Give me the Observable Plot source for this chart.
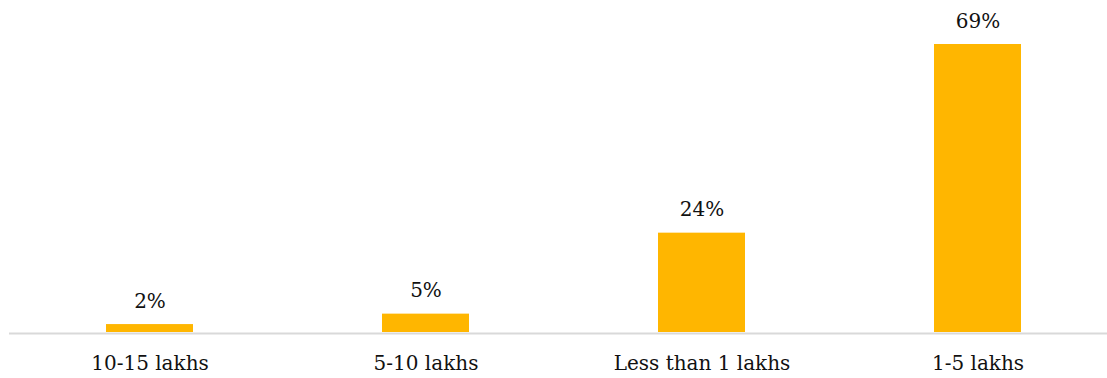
<!DOCTYPE html>
<html>
<head>
<meta charset="utf-8">
<script src="https://cdn.jsdelivr.net/npm/d3@7"></script>
<script src="https://cdn.jsdelivr.net/npm/@observablehq/plot@0.6"></script>
<style>
  html, body { margin: 0; padding: 0; background: #fff; }
  #chart svg { display: block; }
</style>
</head>
<body>
<div id="chart"></div>
<script>
const categories = ["10-15 lakhs", "5-10 lakhs", "Less than 1 lakhs", "1-5 lakhs"];
const values = [1.9, 4.4, 23.8, 69];
const valueLabels = ["2%", "5%", "24%", "69%"];

const data = categories.map((c, i) => ({cat: c, value: values[i], label: valueLabels[i]}));
const font = "'DejaVu Serif', Georgia, serif";

const chart = Plot.plot({
  width: 1107,
  height: 378,
  marginTop: 44,
  marginBottom: 46,
  marginLeft: 9,
  marginRight: 0,
  style: {fontFamily: font, fontSize: "20px", color: "#111", background: "#fff"},
  x: {domain: categories, range: [10, 1117], paddingInner: 0.686, paddingOuter: 0.343, label: null},
  y: {domain: [0, d3.max(values)], axis: null},
  marks: [
    Plot.ruleY([0], {stroke: "#d9d9d9", strokeWidth: 2, dy: 1}),
    Plot.barY(data, {x: "cat", y: "value", fill: "#ffb600"}),
    Plot.text(data, {x: "cat", y: "value", text: "label", dy: -17, lineAnchor: "bottom", fontSize: 20, fontFamily: font, fill: "#111"}),
    Plot.axisX({tickSize: 0, tickPadding: 23, fontSize: 20, fontFamily: font, label: null, fill: "#111"})
  ]
});
document.getElementById("chart").appendChild(chart);
</script>
</body>
</html>
